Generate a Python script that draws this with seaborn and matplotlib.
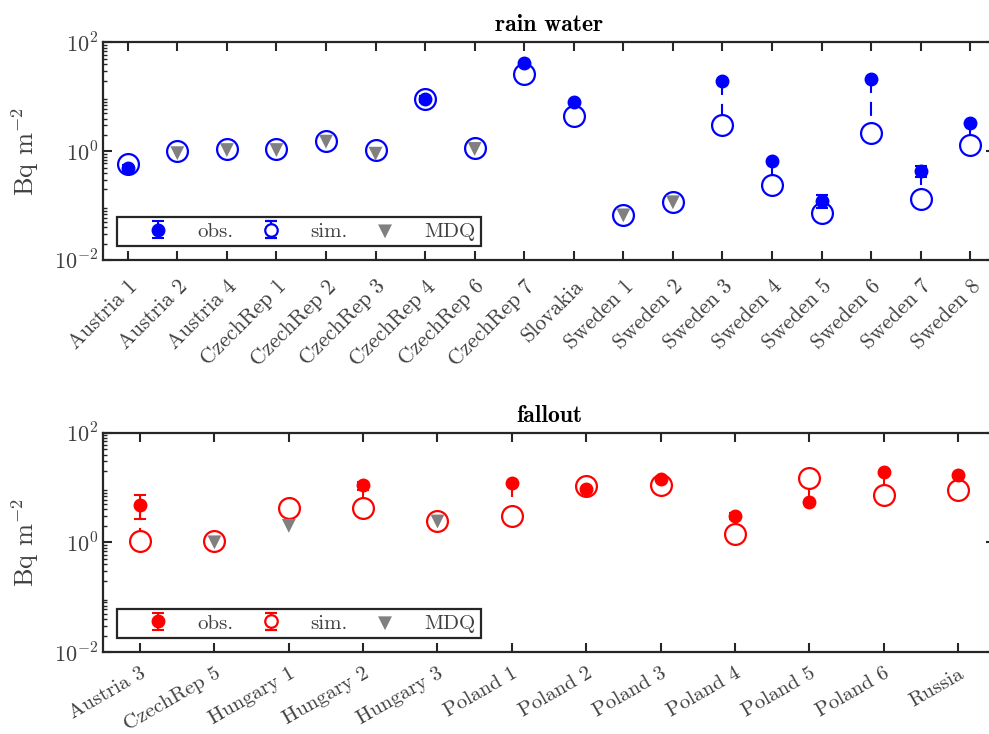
import numpy as np
import pandas as pd
import matplotlib
matplotlib.use("Agg")
import matplotlib.pyplot as plt
from matplotlib.lines import Line2D
from matplotlib.container import ErrorbarContainer
from matplotlib.legend_handler import HandlerErrorbar
import seaborn as sns

# -- data
nan = np.nan
rain_cats = ["Austria 1", "Austria 2", "Austria 4", "CzechRep 1", "CzechRep 2", "CzechRep 3",
             "CzechRep 4", "CzechRep 6", "CzechRep 7", "Slovakia", "Sweden 1", "Sweden 2",
             "Sweden 3", "Sweden 4", "Sweden 5", "Sweden 6", "Sweden 7", "Sweden 8"]
rain_obs = [0.49, nan, nan, nan, nan, nan, 9.0, nan, 42.0, 8.0, nan, nan,
            19.2, 0.67, 0.124, 20.9, 0.44, 3.34]
rain_obs_lo = [0.43, nan, nan, nan, nan, nan, 8.0, nan, 40.0, 8.0, nan, nan,
               19.2, 0.67, 0.089, 20.9, 0.33, 3.34]
rain_obs_hi = [0.55, nan, nan, nan, nan, nan, 10.2, nan, 44.0, 8.0, nan, nan,
               19.2, 0.67, 0.158, 20.9, 0.545, 3.34]
rain_sim = [0.59, 1.0, 1.1, 1.1, 1.57, 1.07, 9.2, 1.15, 26.6, 4.4, 0.066, 0.115,
            3.0, 0.24, 0.072, 2.15, 0.133, 1.31]
rain_mdq = [nan, 0.92, 1.05, 1.05, 1.5, 0.9, nan, 1.1, nan, nan, 0.066, 0.115,
            nan, nan, nan, nan, nan, nan]

fall_cats = ["Austria 3", "CzechRep 5", "Hungary 1", "Hungary 2", "Hungary 3", "Poland 1",
             "Poland 2", "Poland 3", "Poland 4", "Poland 5", "Poland 6", "Russia"]
fall_obs = [4.9, nan, nan, 11.1, nan, 11.9, 9.4, 14.1, 3.02, 5.5, 19.4, 16.9]
fall_obs_lo = [2.66, nan, nan, 9.0, nan, 11.9, 9.4, 14.1, 2.7, 5.5, 19.4, 16.9]
fall_obs_hi = [7.3, nan, nan, 12.7, nan, 11.9, 9.4, 14.1, 3.4, 5.5, 19.4, 16.9]
fall_sim = [1.07, 1.07, 4.2, 4.3, 2.45, 3.0, 10.8, 11.1, 1.4, 14.7, 7.3, 9.0]
fall_mdq = [nan, 1.0, 2.0, nan, 2.4, nan, nan, nan, nan, nan, nan, nan]

sns.set_theme(style="ticks")
plt.rcParams['font.family'] = ['cmr10', 'DejaVu Serif']
plt.rcParams['mathtext.fontset'] = 'cm'
plt.rcParams['axes.formatter.use_mathtext'] = True
plt.rcParams['axes.unicode_minus'] = False

spine_c = '#262626'
text_c = '#404040'


def panel(ax, cats, obs, lo, hi, sim, mdq, color, title, rot, lpad, lsize):
    n = len(cats)
    x = np.arange(1, n + 1)
    obs = np.array(obs); lo = np.array(lo); hi = np.array(hi)
    sim = np.array(sim); mdq = np.array(mdq)

    # dashed link obs -> sim
    m = ~np.isnan(obs)
    ax.vlines(x[m], obs[m], sim[m], colors=color, linewidth=1.5,
              linestyles=[(0, (6.7, 4.3))], zorder=2)

    sim_c = ax.errorbar(x, sim, yerr=[np.zeros(n), np.zeros(n)], fmt='o', ms=15,
                        mfc='white', mec=color, mew=1.6, color=color, ecolor=color,
                        elinewidth=1.5, capsize=4.3, capthick=1.5, zorder=3, label='sim.')
    obs_c = ax.errorbar(x, obs, yerr=[obs - lo, hi - obs], fmt='o', ms=9,
                        color=color, mec=color, elinewidth=1.5, capsize=4.3,
                        capthick=1.5, zorder=4, label='obs.')
    df = pd.DataFrame({'x': x, 'mdq': mdq}).dropna()
    sns.scatterplot(data=df, x='x', y='mdq', marker='v', color='#808080', s=100,
                    edgecolor='none', ax=ax, zorder=5, label='MDQ')

    ax.set_yscale('log')
    ax.set_ylim(1e-2, 1e2)
    ax.set_xlim(0.5, n + 0.5)
    ax.set_yticks([1e-2, 1e0, 1e2])
    ax.set_yticklabels([r'$10^{-2}$', r'$10^{0}$', r'$10^{2}$'])
    ax.set_xticks(x)
    ax.set_xticklabels(cats, rotation=rot, rotation_mode='anchor', ha='right', va='top')
    ax.set_xlabel('')
    ax.set_ylabel(r'Bq m$^{-2}$', fontsize=19, color=text_c, labelpad=9)
    ax.set_title(title, fontsize=17, fontfamily='cmb10', color='black', pad=8)

    ax.tick_params(axis='both', which='both', direction='in', top=True, right=True,
                   colors=spine_c, labelcolor=text_c, labelsize=16)
    ax.tick_params(axis='both', which='major', length=6.5, width=1.5)
    ax.tick_params(axis='y', which='minor', length=3, width=1.0)
    ax.tick_params(axis='x', which='major', pad=lpad, labelsize=lsize)
    ax.tick_params(axis='x', which='minor', bottom=False, top=False)
    for s in ax.spines.values():
        s.set_color(spine_c)
        s.set_linewidth(1.6)

    leg = ax.legend(handles=[obs_c, sim_c, ax.collections[-1]], labels=['obs.', 'sim.', 'MDQ'],
                    ncol=3, loc='lower left', bbox_to_anchor=(0.0157, 0.064, 0.408, 0.14),
                    mode='expand', fontsize=15, frameon=True, fancybox=False,
                    framealpha=1, edgecolor=spine_c, handlelength=3.4,
                    handletextpad=0.2, borderpad=0.25, borderaxespad=0,
                    handler_map={ErrorbarContainer: HandlerErrorbar(yerr_size=0.42)})
    leg.get_frame().set_linewidth(1.6)
    # smaller open circle in the legend key
    for ln in leg.findobj(Line2D):
        if ln.get_markersize() == 15:
            ln.set_markersize(9)
    for t in leg.get_texts():
        t.set_color(text_c)


fig = plt.figure(figsize=(9.89, 7.34), dpi=100)
ax1 = fig.add_axes([0.1041, 0.6458, 0.902, 0.2963])
ax2 = fig.add_axes([0.1041, 0.1117, 0.902, 0.2988])

panel(ax1, rain_cats, rain_obs, rain_obs_lo, rain_obs_hi, rain_sim, rain_mdq, '#0000ff', 'rain water', 45, 12, 15.5)
panel(ax2, fall_cats, fall_obs, fall_obs_lo, fall_obs_hi, fall_sim, fall_mdq, '#ff0000', 'fallout', 30, 9, 15)

fig.savefig('out.png', dpi=100)
